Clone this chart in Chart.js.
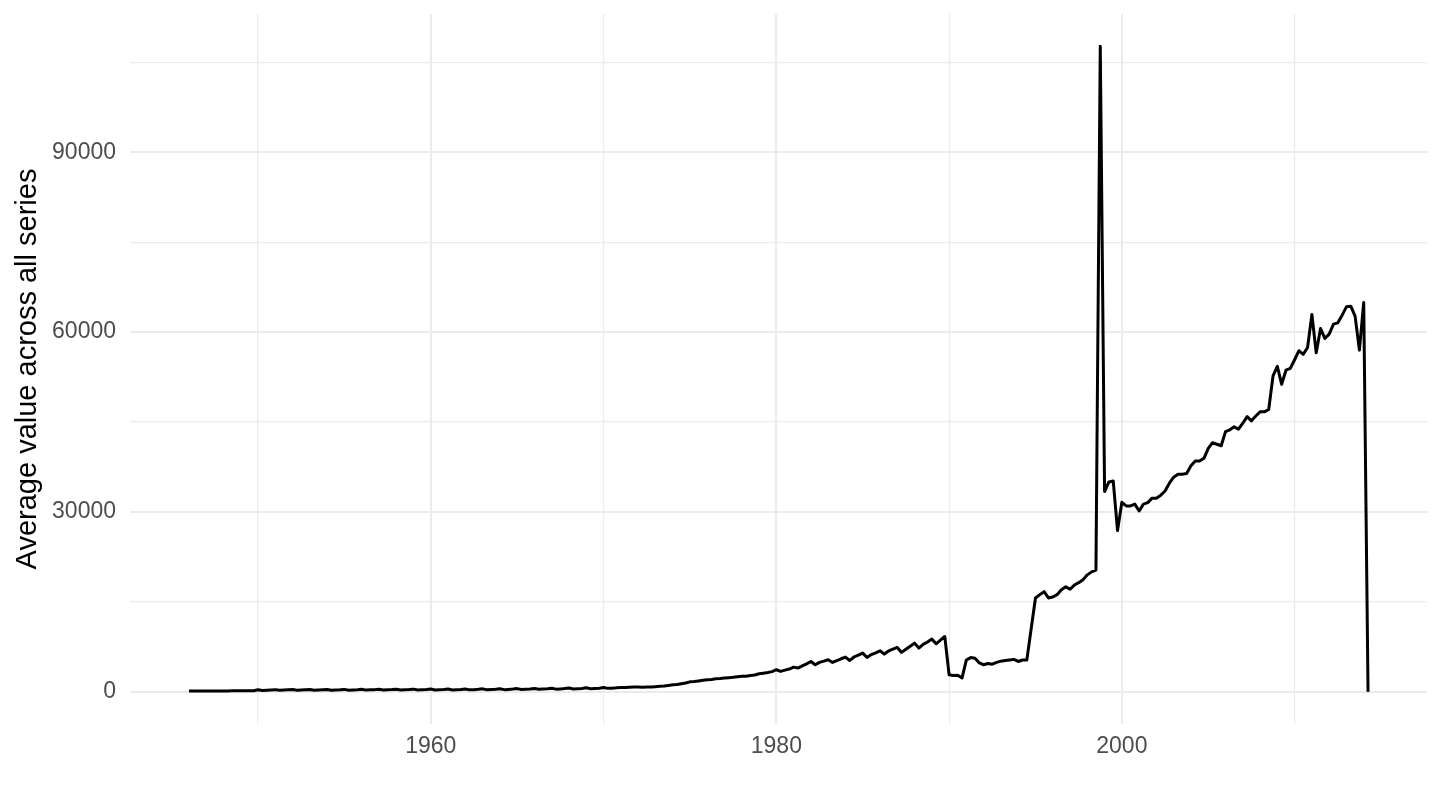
<!DOCTYPE html>
<html>
<head>
<meta charset="utf-8">
<script src="https://cdn.jsdelivr.net/npm/chart.js@4"></script>
<style>
  html, body { margin: 0; padding: 0; background: #fff; }
  #wrap { width: 1440px; height: 810px; }
</style>
</head>
<body>
<div id="wrap"><canvas id="c" width="1440" height="810"></canvas></div>
<script>
// Quarterly observations, first quarter of 1946 onward
const startYear = 1946;
const stepYears = 0.25;

const values1946_1949 = [120,120,125,125, 130,130,135,135, 140,140,145,145, 150,150,155,160];
const values1950s = [330,220,260,300, 350,230,270,310, 360,240,280,320, 370,250,290,330, 380,250,290,330,
                     390,260,300,340, 400,270,310,350, 410,280,320,360, 420,280,320,360, 430,290,330,370];
const values1960s = [440,300,340,380, 450,300,340,390, 460,310,350,400, 480,330,370,420, 500,350,390,440,
                     520,370,410,460, 550,400,440,490, 580,430,470,520, 610,460,500,550, 650,500,540,590];
const values1970s = [700,560,600,650, 720,700,750,770, 770,760,780,800, 850,900,950,1050, 1150,1200,1330,1450,
                     1650,1700,1800,1900, 2000,2050,2150,2200, 2300,2350,2400,2500, 2600,2600,2700,2800, 3000,3100,3200,3350];
const values1980s = [3670,3390,3600,3780, 4100,3950,4300,4650, 5050,4500,4890,5100, 5330,4890,5200,5500,
                     5780,5220,5800,6100, 6450,5720,6200,6500, 6830,6280,6800,7100, 7390,6560,7100,7600,
                     8110,7280,7900,8300, 8780,8000,8600,9220];
const values1990s = [2830,2700,2750,2300, 5300,5700,5600,4800, 4500,4700,4600,4900, 5100,5200,5300,5400,
                     5050,5300,5300,10500, 15650,16200,16700,15650, 15800,16200,17000,17500,
                     17100,17800,18200,18700, 19500,20000,20300,107700, 33400,35000,35150,26900];
const values2000s = [31600,31000,31000,31300, 30150,31300,31550,32300, 32300,32800,33500,34800,
                     35800,36300,36300,36400, 37700,38500,38500,38950, 40600,41550,41300,41050,
                     43400,43700,44200,43800, 44800,45900,45200,46000, 46700,46700,47100,52700,
                     54300,51300,53650,53950];
const values2010s = [55400,56900,56300,57450, 62950,56550,60600,58950, 59670,61330,61550,62830,
                     64220,64330,62670,57000, 64950,0];

const xTicks = [1950, 1960, 1970, 1980, 1990, 2000, 2010];
const xLabelTicks = [1960, 1980, 2000];
const yTicks = [0, 15000, 30000, 45000, 60000, 75000, 90000, 105000];
const yLabelTicks = [0, 30000, 60000, 90000];
const yTitle = 'Average value across all series';

const allValues = [].concat(values1946_1949, values1950s, values1960s, values1970s,
                            values1980s, values1990s, values2000s, values2010s);
const points = allValues.map((v, i) => ({ x: startYear + i * stepYears, y: v }));

// ggplot-like 5% expansion
const xs = points.map(p => p.x), ys = points.map(p => p.y);
const xMin0 = Math.min(...xs), xMax0 = Math.max(...xs);
const yMin0 = Math.min(...ys), yMax0 = Math.max(...ys);
const xPad = (xMax0 - xMin0) * 0.05, yPad = (yMax0 - yMin0) * 0.05;

const gridColor = '#EBEBEB';
const fontFamily = '"Liberation Sans", Arial, Helvetica, sans-serif';

const titlePlugin = {
  id: 'ytitle',
  afterDraw(chart) {
    const ctx = chart.ctx;
    const area = chart.chartArea;
    ctx.save();
    ctx.translate(28, (area.top + area.bottom) / 2);
    ctx.rotate(-Math.PI / 2);
    ctx.fillStyle = '#000';
    ctx.font = '29px ' + fontFamily;
    ctx.textAlign = 'center';
    ctx.textBaseline = 'middle';
    ctx.fillText(yTitle, 0, 0);
    ctx.restore();
  }
};

new Chart(document.getElementById('c'), {
  type: 'line',
  data: {
    datasets: [{
      data: points,
      borderColor: '#000',
      borderWidth: 3,
      pointRadius: 0,
      tension: 0,
      fill: false,
      borderJoinStyle: 'round',
      borderCapStyle: 'butt'
    }]
  },
  options: {
    responsive: false,
    animation: false,
    events: [],
    layout: { padding: { left: 0, right: 13, top: 14, bottom: 0 } },
    plugins: { legend: { display: false }, tooltip: { enabled: false } },
    scales: {
      x: {
        type: 'linear',
        min: xMin0 - xPad,
        max: xMax0 + xPad,
        afterBuildTicks: s => { s.ticks = xTicks.map(v => ({ value: v })); },
        afterFit: s => { s.height = 86; s.paddingLeft = 0; s.paddingRight = 0; },
        border: { display: false },
        grid: {
          color: gridColor,
          drawTicks: false,
          lineWidth: c => (xLabelTicks.includes(c.tick && c.tick.value) ? 2 : 1.2)
        },
        ticks: {
          padding: 9,
          color: '#4D4D4D',
          font: { size: 23, family: fontFamily },
          maxRotation: 0,
          autoSkip: false,
          callback: v => (xLabelTicks.includes(v) ? String(v) : '')
        }
      },
      y: {
        type: 'linear',
        min: yMin0 - yPad,
        max: yMax0 + yPad,
        afterBuildTicks: s => { s.ticks = yTicks.map(v => ({ value: v })); },
        afterFit: s => { s.width = 130; s.paddingTop = 0; s.paddingBottom = 0; },
        border: { display: false },
        grid: {
          color: gridColor,
          drawTicks: false,
          lineWidth: c => (yLabelTicks.includes(c.tick && c.tick.value) ? 2 : 1.2)
        },
        ticks: {
          padding: 14,
          color: '#4D4D4D',
          font: { size: 23, family: fontFamily },
          autoSkip: false,
          callback: v => (yLabelTicks.includes(v) ? String(v) : '')
        }
      }
    }
  },
  plugins: [titlePlugin]
});
</script>
</body>
</html>
